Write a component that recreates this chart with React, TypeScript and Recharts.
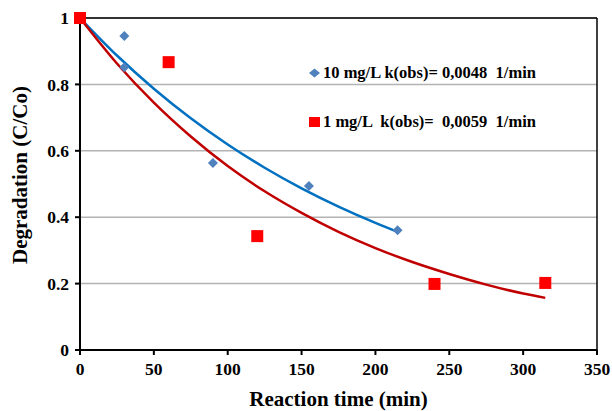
import {
  ComposedChart,
  Line,
  Scatter,
  XAxis,
  YAxis,
  CartesianGrid,
  ReferenceLine
} from 'recharts';

// measured points
const blueTime = [0, 30, 30, 90, 155, 215];
const blueValue = [1, 0.946, 0.852, 0.563, 0.494, 0.361];
const redTime = [0, 60, 120, 240, 315];
const redValue = [1, 0.867, 0.343, 0.199, 0.202];

// fitted trend curves
const blueFitTime = [0, 25, 50, 75, 100, 125, 150, 175, 200, 215];
const blueFitValue = [1, 0.887, 0.787, 0.698, 0.619, 0.549, 0.487, 0.432, 0.383, 0.356];
const redFitTime = [0, 25, 50, 75, 100, 125, 150, 175, 200, 225, 250, 275, 300, 315];
const redFitValue = [1, 0.863, 0.745, 0.643, 0.554, 0.478, 0.413, 0.356, 0.307, 0.265, 0.229, 0.197, 0.17, 0.157];

const xTicks = [0, 50, 100, 150, 200, 250, 300, 350];
const yTicks = [0, 0.2, 0.4, 0.6, 0.8, 1];

const seriesNames = ['10 mg/L k(obs)= 0,0048  1/min', '1 mg/L  k(obs)=  0,0059  1/min'];

const toPoints = (xs: number[], ys: number[]) => xs.map((t, i) => ({ t, v: ys[i] }));

const blueData = toPoints(blueTime, blueValue);
const redData = toPoints(redTime, redValue);
const blueFit = toPoints(blueFitTime, blueFitValue);
const redFit = toPoints(redFitTime, redFitValue);

const font = '"Liberation Serif", "Times New Roman", serif';

const Diamond = (props: any) => {
  const { cx, cy } = props;
  const r = 5;
  return <polygon points={`${cx},${cy - r} ${cx + r},${cy} ${cx},${cy + r} ${cx - r},${cy}`} fill="#4f81bd" />;
};

const Square = (props: any) => {
  const { cx, cy } = props;
  const s = 12;
  return <rect x={cx - s / 2} y={cy - s / 2} width={s} height={s} fill="#ff0000" />;
};

const rowStyle: any = {
  position: 'absolute',
  display: 'flex',
  alignItems: 'center',
  height: 20,
  fontFamily: font,
  fontWeight: 'bold',
  fontSize: 16.5,
  color: '#000',
  whiteSpace: 'pre'
};

// legend sits inside the plot area, so it is drawn as an overlay
const LegendBox = () => (
  <>
    <div style={{ ...rowStyle, left: 308, top: 63 }}>
      <svg width={13} height={12} style={{ marginRight: 2 }}>
        <polygon points="6.5,1.5 12,6 6.5,10.5 1,6" fill="#4f81bd" />
      </svg>
      {seriesNames[0]}
    </div>
    <div style={{ ...rowStyle, left: 308, top: 112 }}>
      <svg width={13} height={12} style={{ marginRight: 2 }}>
        <rect x={1} y={1} width={11} height={10} fill="#ff0000" />
      </svg>
      {seriesNames[1]}
    </div>
  </>
);

export default function App() {
  return (
    <div style={{ position: 'absolute', left: 0, top: 0, width: 612, height: 411, background: '#fff' }}>
      <ComposedChart width={612} height={411} margin={{ top: 18, right: 15, left: 0, bottom: 0 }}>
        <CartesianGrid vertical={false} stroke="#b3b3b3" strokeWidth={1.5} />
        <XAxis
          type="number"
          dataKey="t"
          domain={[0, 350]}
          ticks={xTicks}
          height={61}
          stroke="#000"
          strokeWidth={2}
          tickSize={5}
          tickMargin={8}
          tick={{ fill: '#000', fontFamily: font, fontWeight: 'bold', fontSize: 17.5 }}
          label={{
            value: 'Reaction time (min)',
            position: 'center',
            dy: 18,
            style: { fill: '#000', fontFamily: font, fontWeight: 'bold', fontSize: 21 }
          }}
        />
        <YAxis
          type="number"
          dataKey="v"
          domain={[0, 1]}
          ticks={yTicks}
          width={80}
          stroke="#000"
          strokeWidth={2}
          tickSize={5}
          tickMargin={6}
          tick={{ fill: '#000', fontFamily: font, fontWeight: 'bold', fontSize: 17.5 }}
          label={{
            value: 'Degradation (C/Co)',
            angle: -90,
            position: 'center',
            dx: -20,
            dy: -9,
            style: { fill: '#000', fontFamily: font, fontWeight: 'bold', fontSize: 21 }
          }}
        />
        <ReferenceLine y={1} stroke="#000" strokeWidth={1.5} />
        <ReferenceLine x={350} stroke="#000" strokeWidth={1.5} />
        <Scatter data={blueData} dataKey="v" shape={<Diamond />} isAnimationActive={false} />
        <Line
          data={blueFit}
          dataKey="v"
          type="monotone"
          stroke="#0070c0"
          strokeWidth={2.5}
          dot={false}
          activeDot={false}
          isAnimationActive={false}
        />
        <Line
          data={redFit}
          dataKey="v"
          type="monotone"
          stroke="#c00000"
          strokeWidth={2.5}
          dot={false}
          activeDot={false}
          isAnimationActive={false}
        />
        <Scatter data={redData} dataKey="v" shape={<Square />} isAnimationActive={false} />
      </ComposedChart>
      <LegendBox />
    </div>
  );
}
